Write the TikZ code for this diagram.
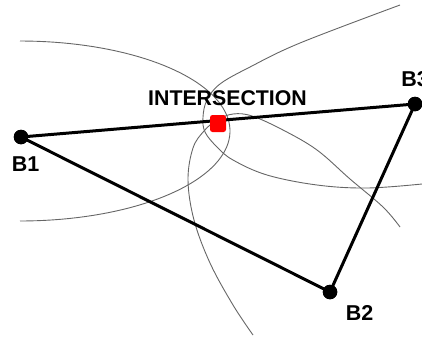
\documentclass[tikz,border=0pt]{standalone}
\usepackage{fontspec}
\setmainfont{Liberation Sans}[BoldFont={Liberation Sans Bold}]
\begin{document}
\begin{tikzpicture}[x=1pt,y=-1pt,
  beacon/.style={circle,fill=black,inner sep=0pt,minimum size=14.5pt},
  link/.style={line width=3pt,line join=round},
  rangecurve/.style={line width=0.9pt,draw=black!60},
  lbl/.style={font=\bfseries\fontsize{21.5}{21.5}\selectfont,inner sep=0pt,anchor=center},
  hit/.style={fill=red,rounded corners=2.5pt,minimum width=16pt,minimum height=17pt,inner sep=0pt}]
\useasboundingbox (0,0) rectangle (422,338);
% range curves
\draw[rangecurve] plot[domain=-90:90,samples=80] ({20+210*cos(\x)},{131+90*sin(\x)});
\draw[rangecurve] plot[smooth,tension=0.6] coordinates {(400,5) (300,43) (250,67) (220,84) (207,100) (203,117) (205,132) (217,147) (233,160) (267,175) (317,185) (367,188) (422,184)};
\draw[rangecurve] plot[smooth,tension=0.6] coordinates {(253,335) (233,305) (210,263) (194,220) (188,180) (193,148) (204,131) (217,120) (233,114) (252,116) (283,130) (317,150) (350,179) (383,207) (400,227)};
% beacons
\node[beacon] (b1) at (21,137) {};
\node[beacon] (b2) at (330,292) {};
\node[beacon] (b3) at (415,104) {};
\draw[link] (b1.center) -- (b3.center);
\draw[link] (b1.center) -- (b2.center) -- (b3.center);
\node[beacon] at (b1) {};
\node[beacon] at (b2) {};
\node[beacon] at (b3) {};
\node[hit] (x) at (218,123.5) {};
% labels
\node[lbl] (l1) at (25.5,164.5) {B1};
\node[lbl] (l2) at (359.5,312.5) {B2};
\node[lbl] (l3) at (415,79.5) {B3};
\node[lbl,font=\bfseries\fontsize{21.3}{21.3}\selectfont] (li) at (227.5,98.5) {INTERSECTION};
\end{tikzpicture}
\end{document}
